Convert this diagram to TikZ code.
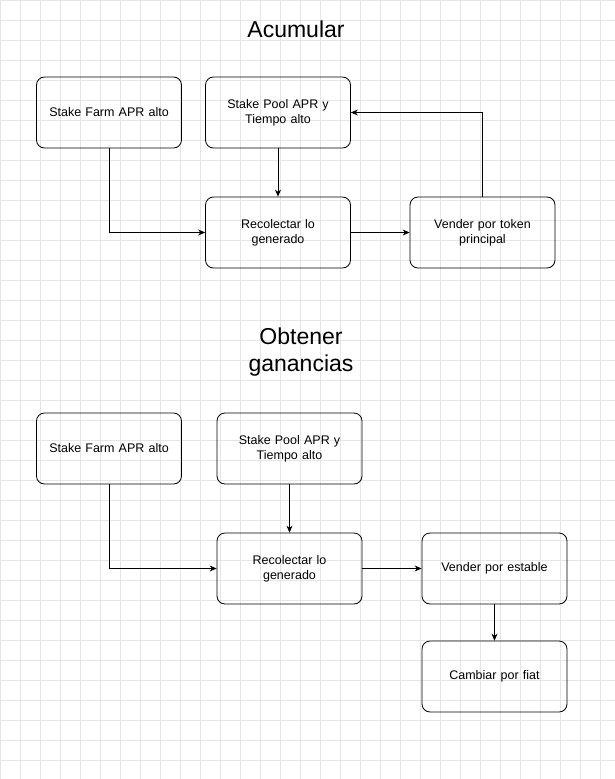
\documentclass[tikz,border=0pt]{standalone}
\usepackage{fontspec}
\setmainfont{Liberation Sans}
\usetikzlibrary{arrows.meta}
\begin{document}
\begin{tikzpicture}[x=1pt,y=-1pt,
  box/.style={draw,thick,rounded corners=8pt,minimum width=145pt,minimum height=71pt,align=center,font=\fontsize{12.5}{15}\selectfont,text width=135pt},
  arr/.style={-{Stealth[length=7pt,width=6pt]},thick},
  ttl/.style={font=\fontsize{23}{27}\selectfont,align=center}]
\useasboundingbox (0,0) rectangle (615,779);
\fill[white] (0,0) rectangle (615,779);
\draw[black!10,step=20pt] (0,0) grid (615,779);
\node[ttl] (t1) at (296,29) {Acumular};
\node[box] (f1) at (109,112.5) {Stake Farm APR alto};
\node[box] (p1) at (278,112.5) {Stake Pool APR y\\Tiempo alto};
\node[box] (r1) at (278,232.5) {Recolectar lo\\generado};
\node[box] (v1) at (482.5,232.5) {Vender por token\\principal};
\draw[arr] (f1.south) |- (r1.west);
\draw[arr] (p1) -- (r1);
\draw[arr] (r1) -- (v1);
\draw[arr] (v1.north) |- (p1.east);
\node[ttl] (t2) at (301,352) {Obtener\\ganancias};
\node[box] (f2) at (109,448.5) {Stake Farm APR alto};
\node[box] (p2) at (289.5,448.5) {Stake Pool APR y\\Tiempo alto};
\node[box] (r2) at (289.5,568.5) {Recolectar lo\\generado};
\node[box] (v2) at (494.5,568.5) {Vender por estable};
\node[box] (c2) at (494.5,676.5) {Cambiar por fiat};
\draw[arr] (f2.south) |- (r2.west);
\draw[arr] (p2) -- (r2);
\draw[arr] (r2) -- (v2);
\draw[arr] (v2) -- (c2);
\end{tikzpicture}
\end{document}
